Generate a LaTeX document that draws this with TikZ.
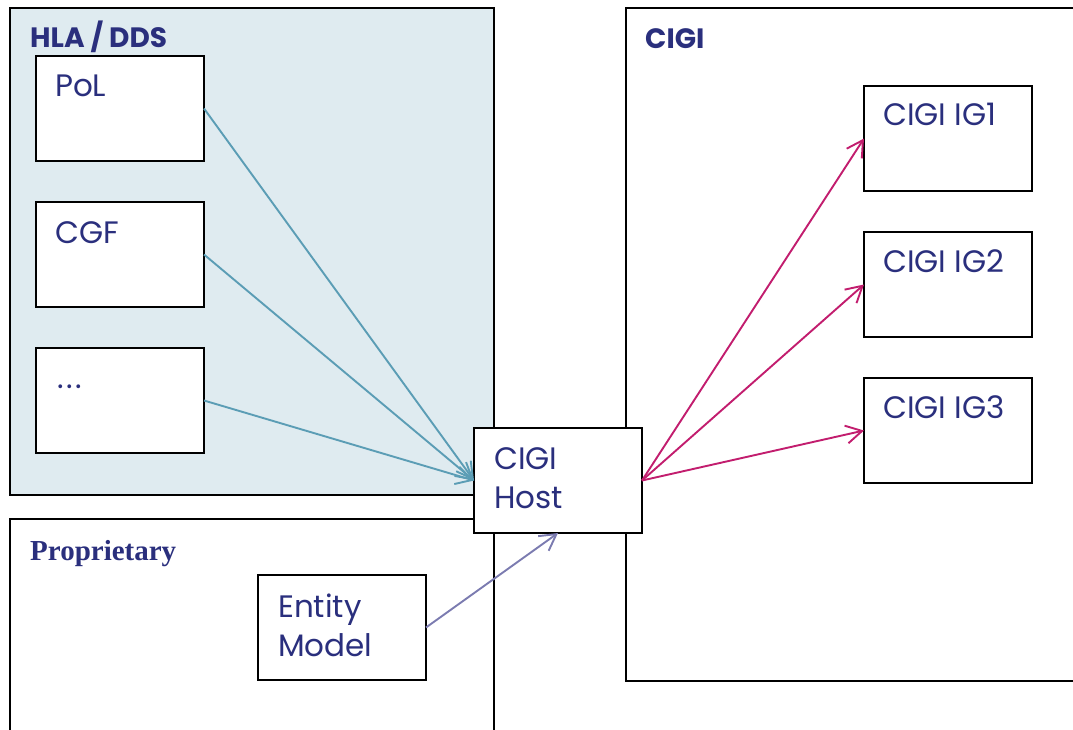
\documentclass[tikz,border=0pt]{standalone}
\usepackage{fontspec}
\setmainfont{Poppins}
\newfontfamily\titleserif{Liberation Serif}
\usetikzlibrary{arrows.meta}
\definecolor{txtnavy}{HTML}{2A2F7D}
\definecolor{hlafill}{HTML}{DFEBF0}
\definecolor{hlaarrow}{HTML}{5B9DB5}
\definecolor{igarrow}{HTML}{C21D6E}
\definecolor{entarrow}{HTML}{7B7BB0}
\begin{document}
\begin{tikzpicture}[x=1pt,y=-1pt,
  group/.style={draw=black, line width=1.7pt, anchor=north west, inner sep=0pt, outer sep=0pt},
  grouptitle/.style={anchor=base west, inner sep=0pt, text=txtnavy, font=\fontsize{28}{30}\selectfont\bfseries},
  unit/.style={draw=black, line width=1.7pt, fill=white, anchor=north west, inner sep=0pt, outer sep=0pt,
    minimum width=168pt, minimum height=105pt},
  unittext/.style={anchor=north west, inner sep=0pt, text=txtnavy, align=left,
    font=\fontsize{31}{39}\selectfont},
  flow/.style={line width=1.9pt, -{Straight Barb[length=16pt, width=18pt, line width=1.9pt]}}
]
\useasboundingbox (0,0) rectangle (1073,729);

% federation domains
\node[group, fill=hlafill, minimum width=484pt, minimum height=487pt] (hla) at (10,8) {};
\node[grouptitle, xshift=20pt, yshift=-39pt] at (hla.north west) {HLA / DDS};
\node[group, minimum width=484pt, minimum height=230pt] (prop) at (10,519) {};
\node[grouptitle, font=\titleserif\fontsize{29}{32}\selectfont\bfseries, xshift=20pt, yshift=-41pt] at (prop.north west) {Proprietary};
\node[group, minimum width=470pt, minimum height=673pt] (cigi) at (626,8) {};
\node[grouptitle, xshift=19pt, yshift=-40pt] at (cigi.north west) {CIGI};

% simulation components
\node[unit] (pol) at (36,56) {};
\node[unittext, xshift=19pt, yshift=-19pt] at (pol.north west) {PoL};
\node[unit] (cgf) at (36,202) {};
\node[unittext, xshift=19pt, yshift=-19pt] at (cgf.north west) {CGF};
\node[unit] (more) at (36,348) {};
\node[unittext, xshift=21pt, yshift=-19pt] at (more.north west) {\vphantom{P}.\kern2.5pt.\kern2.5pt.};

\node[unit] (host) at (474,428) {};
\node[unittext, xshift=20pt, yshift=-19pt] at (host.north west) {CIGI\\Host};

\node[unit] (entity) at (258,575) {};
\node[unittext, xshift=20pt, yshift=-19pt] at (entity.north west) {Entity\\Model};

\node[unit] (ig1) at (864,86) {};
\node[unittext, xshift=19pt, yshift=-17pt] at (ig1.north west) {CIGI IG1};
\node[unit] (ig2) at (864,232) {};
\node[unittext, xshift=19pt, yshift=-17pt] at (ig2.north west) {CIGI IG2};
\node[unit] (ig3) at (864,378) {};
\node[unittext, xshift=19pt, yshift=-17pt] at (ig3.north west) {CIGI IG3};

% data flows
\draw[flow, hlaarrow] (pol.east) -- (host.west);
\draw[flow, hlaarrow] (cgf.east) -- (host.west);
\draw[flow, hlaarrow] (more.east) -- (host.west);
\draw[flow, entarrow] (entity.east) -- (host.south);
\draw[flow, igarrow] (host.east) -- (ig1.west);
\draw[flow, igarrow] (host.east) -- (ig2.west);
\draw[flow, igarrow] (host.east) -- (ig3.west);
\end{tikzpicture}
\end{document}
